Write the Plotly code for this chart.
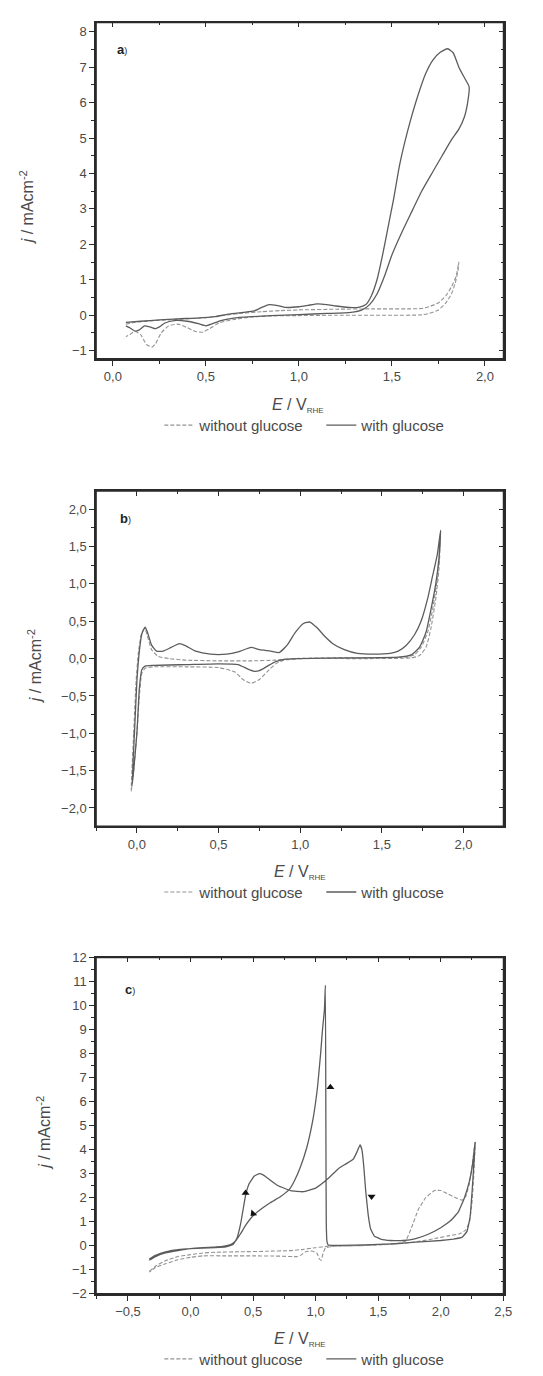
import plotly.graph_objects as go

W, H = 543, 1376

# ---------------- data ----------------
# Panel a
a_E_without = [0.07, 0.12, 0.2, 0.3, 0.4, 0.5, 0.6, 0.7, 0.8, 0.9, 1.0, 1.2, 1.4, 1.6, 1.66, 1.7, 1.75, 1.79, 1.82, 1.845, 1.86,
               1.855, 1.84, 1.82, 1.79, 1.75, 1.7, 1.66, 1.5, 1.2, 1.0, 0.85, 0.75, 0.65, 0.57, 0.52, 0.48, 0.44, 0.4, 0.35,
               0.3, 0.26, 0.23, 0.21, 0.18, 0.15, 0.12, 0.09, 0.07]
a_j_without = [-0.25, -0.2, -0.16, -0.13, -0.1, -0.07, 0.0, 0.06, 0.1, 0.13, 0.15, 0.17, 0.18, 0.18, 0.19, 0.24, 0.35, 0.55, 0.8, 1.1, 1.5,
               1.25, 0.9, 0.6, 0.35, 0.15, 0.05, 0.01, 0.0, 0.0, -0.01, -0.02, -0.05, -0.12, -0.22, -0.38, -0.48, -0.45, -0.35, -0.25,
               -0.3, -0.5, -0.8, -0.9, -0.82, -0.55, -0.45, -0.55, -0.6]
a_E_with = [0.07, 0.15, 0.25, 0.35, 0.45, 0.55, 0.62, 0.7, 0.76, 0.8, 0.84, 0.88, 0.93, 1.0, 1.05, 1.1, 1.15, 1.2, 1.27, 1.32,
            1.36, 1.39, 1.42, 1.45, 1.48, 1.51, 1.54, 1.57, 1.6, 1.64, 1.68, 1.72, 1.76, 1.8, 1.83, 1.86, 1.89, 1.915,
            1.91, 1.89, 1.86, 1.82, 1.77, 1.72, 1.66, 1.6, 1.55, 1.5, 1.46, 1.42, 1.38, 1.34, 1.28, 1.15, 1.0, 0.85, 0.75,
            0.65, 0.58, 0.53, 0.5, 0.46, 0.4, 0.33, 0.28, 0.25, 0.23, 0.2, 0.17, 0.14, 0.12, 0.09, 0.07]
a_j_with = [-0.2, -0.17, -0.13, -0.1, -0.08, -0.04, 0.03, 0.08, 0.12, 0.22, 0.3, 0.28, 0.22, 0.24, 0.28, 0.32, 0.3, 0.26, 0.22, 0.22,
            0.3, 0.55, 1.0, 1.7, 2.5, 3.3, 4.2, 4.9, 5.5, 6.2, 6.8, 7.2, 7.42, 7.52, 7.4, 7.0, 6.7, 6.45,
            6.1, 5.6, 5.25, 4.95, 4.5, 4.05, 3.5, 2.85, 2.3, 1.7, 1.1, 0.6, 0.3, 0.15, 0.08, 0.05, 0.02, -0.01, -0.04,
            -0.08, -0.15, -0.25, -0.3, -0.24, -0.17, -0.15, -0.22, -0.33, -0.38, -0.33, -0.3, -0.42, -0.45, -0.35, -0.3]

# Panel b
b_E_without = [-0.035, -0.02, -0.005, 0.01, 0.03, 0.048, 0.065, 0.09, 0.13, 0.2, 0.3, 0.5, 0.7, 0.85, 0.95, 1.2, 1.5, 1.65, 1.7,
               1.74, 1.78, 1.81, 1.835, 1.85, 1.86,
               1.85, 1.83, 1.8, 1.77, 1.73, 1.68, 1.4, 1.0, 0.9, 0.85, 0.8, 0.75, 0.7, 0.65, 0.6, 0.5, 0.3, 0.1, 0.05, 0.03,
               0.015, 0.0, -0.02, -0.035]
b_j_without = [-1.78, -1.0, -0.3, 0.1, 0.35, 0.4, 0.3, 0.12, 0.03, 0.0, -0.02, -0.03, -0.03, -0.02, 0.0, 0.01, 0.01, 0.02, 0.05,
               0.15, 0.35, 0.65, 1.0, 1.3, 1.7,
               1.2, 0.8, 0.4, 0.15, 0.04, 0.01, 0.0, 0.0, -0.02, -0.07, -0.17, -0.28, -0.33, -0.28, -0.18, -0.12, -0.11, -0.11,
               -0.13, -0.2, -0.5, -1.0, -1.5, -1.78]
b_E_with = [-0.03, -0.015, 0.0, 0.015, 0.03, 0.05, 0.065, 0.09, 0.12, 0.16, 0.21, 0.26, 0.3, 0.36, 0.45, 0.55, 0.62, 0.7, 0.75,
            0.82, 0.87, 0.92, 0.97, 1.02, 1.06, 1.1, 1.15, 1.2, 1.27, 1.35, 1.45, 1.55, 1.6, 1.65, 1.7, 1.74, 1.78, 1.81,
            1.84, 1.86,
            1.85, 1.83, 1.8, 1.77, 1.73, 1.68, 1.6, 1.3, 1.0, 0.9, 0.85, 0.8, 0.75, 0.72, 0.68, 0.62, 0.5, 0.3, 0.1, 0.05,
            0.03, 0.015, 0.0, -0.02, -0.03]
b_j_with = [-1.7, -1.0, -0.3, 0.1, 0.33, 0.42, 0.35, 0.18, 0.1, 0.1, 0.15, 0.2, 0.17, 0.1, 0.06, 0.06, 0.09, 0.15, 0.12,
            0.1, 0.08, 0.18, 0.35, 0.47, 0.49, 0.42, 0.3, 0.2, 0.12, 0.07, 0.06, 0.07, 0.1, 0.18, 0.32, 0.5, 0.8, 1.1,
            1.4, 1.72,
            1.35, 1.0, 0.65, 0.35, 0.15, 0.05, 0.02, 0.01, 0.0, -0.01, -0.04, -0.1, -0.16, -0.17, -0.14, -0.08, -0.07, -0.08,
            -0.09, -0.1, -0.15, -0.4, -1.0, -1.5, -1.7]

# Panel c
c_E_without = [-0.33, -0.28, -0.2, -0.1, 0.0, 0.1, 0.2, 0.4, 0.6, 0.8, 0.9, 1.0, 1.1, 1.3, 1.5, 1.65, 1.72, 1.77, 1.82, 1.88,
               1.95, 2.0, 2.06, 2.12, 2.17, 2.2, 2.23, 2.25, 2.275,
               2.265, 2.25, 2.23, 2.2, 2.15, 2.05, 1.95, 1.85, 1.7, 1.5, 1.3, 1.15, 1.08, 1.06, 1.045, 1.03, 1.01, 0.97,
               0.92, 0.88, 0.85, 0.7, 0.5, 0.3, 0.1, 0.0, -0.1, -0.2, -0.28, -0.33]
c_j_without = [-1.07, -0.85, -0.62, -0.45, -0.37, -0.3, -0.27, -0.25, -0.23, -0.2, -0.15, -0.08, -0.02, 0.0, 0.03, 0.08, 0.2,
               0.8, 1.5, 2.0, 2.3, 2.3, 2.15, 2.0, 1.9, 2.05, 2.6, 3.3, 4.3,
               3.0, 1.8, 1.0, 0.65, 0.5, 0.4, 0.3, 0.2, 0.1, 0.05, 0.0, -0.02, -0.08, -0.3, -0.6, -0.55, -0.3, -0.22,
               -0.25, -0.4, -0.45, -0.43, -0.42, -0.42, -0.42, -0.48, -0.58, -0.75, -0.9, -1.1]
c_E_with = [-0.33, -0.28, -0.2, -0.1, 0.0, 0.1, 0.2, 0.28, 0.34, 0.37, 0.4, 0.42, 0.44, 0.47, 0.51, 0.55, 0.58, 0.62, 0.7,
            0.8, 0.9, 1.0, 1.1, 1.18, 1.24, 1.3, 1.33, 1.355, 1.37, 1.385, 1.4, 1.42, 1.44, 1.47, 1.52, 1.6, 1.7, 1.8, 1.9,
            2.0, 2.08, 2.14, 2.19, 2.23, 2.255, 2.275,
            2.265, 2.25, 2.235, 2.21, 2.17, 2.1, 2.0, 1.8, 1.6, 1.4, 1.2, 1.1, 1.09, 1.085, 1.082, 1.078, 1.07, 1.055,
            1.04, 1.015, 0.98, 0.93, 0.88, 0.83, 0.79, 0.72, 0.64, 0.57, 0.5, 0.44, 0.4, 0.36, 0.32, 0.28, 0.2, 0.1, 0.0,
            -0.1, -0.2, -0.28, -0.33]
c_j_with = [-0.55, -0.4, -0.25, -0.16, -0.12, -0.1, -0.08, -0.05, 0.05, 0.3, 0.9, 1.5, 2.1, 2.6, 2.9, 3.0, 2.95, 2.8, 2.5,
            2.3, 2.25, 2.4, 2.8, 3.2, 3.4, 3.6, 3.9, 4.2, 4.0, 3.3, 2.3, 1.3, 0.7, 0.4, 0.28, 0.22, 0.22, 0.3, 0.48,
            0.75, 1.05, 1.4, 2.0, 2.7, 3.4, 4.3,
            3.4, 2.2, 1.2, 0.6, 0.35, 0.28, 0.22, 0.15, 0.08, 0.04, 0.02, 0.03, 0.2, 1.0, 5.0, 10.85, 9.8, 9.0,
            8.0, 6.6, 5.3, 4.1, 3.3, 2.7, 2.35, 2.05, 1.8, 1.55, 1.25, 0.85, 0.5, 0.2, 0.05, 0.0, -0.05, -0.08, -0.12,
            -0.2, -0.3, -0.45, -0.6]

# scan-direction arrows in panel c: position and pointing angle (deg, 0 = up, clockwise)
c_arrow_E = [0.44, 0.50, 1.118, 1.447]
c_arrow_j = [2.2, 1.34, 6.6, 2.05]
c_arrow_angle = [0, 225, 0, 180]

legend_labels = ["without glucose", "with glucose"]
panel_tags = ["a", "b", "c"]

# ---------------- layout geometry (pixels) ----------------
FONT = "Liberation Sans, Arial, sans-serif"
TXT = "#4a4a4a"
AX = "#2a2a2a"
SOLID_C = "#5c5c5c"
DASH_C = "#939393"


def px(x):
    return x / W


def py(y):
    return 1 - y / H


panels = [
    dict(top=15.7, bot=355.7, xr=[-0.09, 2.1], yr=[-1.23, 8.26], ydt=1, ymin=0.5, yfmt="d",
         xfmt=".1f", xdt=0.5, ytitle=(27, 203), xtitle=(303, 403), leg=423, tag=(117, 43), smooth=0.5,
         E=(a_E_without, a_E_with), J=(a_j_without, a_j_with)),
    dict(top=489.3, bot=828.3, xr=[-0.25, 2.245], yr=[-2.245, 2.245], ydt=0.5, ymin=0.25, yfmt=".1f",
         xfmt=".1f", xdt=0.5, ytitle=(35, 666), xtitle=(305, 875), leg=895, tag=(120, 517), smooth=0.5,
         E=(b_E_without, b_E_with), J=(b_j_without, b_j_with)),
    dict(top=961, bot=1301, xr=[-0.755, 2.502], yr=[-2, 12], ydt=1, ymin=0.5, yfmt="d",
         xfmt=".1f", xdt=0.5, ytitle=(44, 1138), xtitle=(305, 1347), leg=1367, tag=(125, 993), smooth=0.3,
         E=(c_E_without, c_E_with), J=(c_j_without, c_j_with)),
]

fig = go.Figure()
layout = dict(width=W, height=H, margin=dict(l=0, r=0, t=0, b=0), paper_bgcolor="white",
              plot_bgcolor="white", separators=",.", font=dict(family=FONT, color=TXT, size=13),
              showlegend=True)
annotations = []
shapes = []

for i, p in enumerate(panels):
    n = i + 1
    sfx = "" if n == 1 else str(n)
    xa, ya = "x" + sfx, "y" + sfx
    tn = n + 3
    xo, yo = "x" + str(tn), "y" + str(tn)
    legname = "legend" if n == 1 else "legend" + str(n)
    dom_x = [px(97.7), px(512)]
    dom_y = [py(p["bot"]), py(p["top"])]
    for k, (E, J) in enumerate(zip(p["E"], p["J"])):
        fig.add_trace(go.Scatter(
            x=E, y=J, mode="lines", name=legend_labels[k], xaxis=xa, yaxis=ya, legend=legname,
            line=dict(color=DASH_C if k == 0 else SOLID_C, width=1.1 if k == 0 else 1.3,
                      dash="4px,2px" if k == 0 else "solid", shape="spline", smoothing=p["smooth"]),
            hoverinfo="skip"))
    # empty carrier so that the top/right tick axes are drawn
    fig.add_trace(go.Scatter(x=[None], y=[None], mode="lines", xaxis=xo, yaxis=yo, showlegend=False,
                             hoverinfo="skip"))
    base = dict(showgrid=False, zeroline=False, linecolor=AX, linewidth=1.5, tickcolor=AX, tickwidth=1.3,
                showline=True)
    layout["xaxis" + sfx] = dict(domain=dom_x, anchor=ya, range=p["xr"], dtick=p["xdt"], tick0=0,
                                 tickformat=p["xfmt"], ticks="outside", ticklen=5,
                                 minor=dict(dtick=0.25, tick0=0, ticks="outside", ticklen=3, tickcolor=AX,
                                            tickwidth=1.1),
                                 tickfont=dict(size=13, color=TXT), **base)
    layout["yaxis" + sfx] = dict(domain=dom_y, anchor=xa, range=p["yr"], dtick=p["ydt"], tick0=0,
                                 tickformat=p["yfmt"], ticks="outside", ticklen=5,
                                 minor=dict(dtick=p["ymin"], tick0=0, ticks="outside", ticklen=3, tickcolor=AX,
                                            tickwidth=1.1),
                                 tickfont=dict(size=13, color=TXT), **base)
    # top / right frame with inward ticks
    layout["xaxis" + str(tn)] = dict(overlaying=xa, anchor=yo, side="top", range=p["xr"], dtick=p["xdt"],
                                     tick0=0, ticks="inside", ticklen=5, showticklabels=False,
                                     minor=dict(dtick=0.25, tick0=0, ticks="inside", ticklen=3, tickcolor=AX,
                                                tickwidth=1.1),
                                     **base)
    layout["yaxis" + str(tn)] = dict(overlaying=ya, anchor=xo, side="right", range=p["yr"], dtick=p["ydt"],
                                     tick0=0, ticks="inside", ticklen=5, showticklabels=False,
                                     minor=dict(dtick=p["ymin"], tick0=0, ticks="inside", ticklen=3, tickcolor=AX,
                                                tickwidth=1.1),
                                     **base)
    layout[legname] = dict(orientation="h", x=px(162), xanchor="left", y=py(p["leg"]), yanchor="middle",
                           bgcolor="rgba(0,0,0,0)", font=dict(size=15, color=TXT, family=FONT),
                           itemwidth=30, tracegroupgap=0, entrywidth=117, entrywidthmode="pixels")
    annotations.append(dict(text="<i>j</i> / mAcm<sup>-2</sup>", xref="paper", yref="paper",
                            x=px(p["ytitle"][0]), y=py(p["ytitle"][1]), textangle=-90, showarrow=False,
                            font=dict(size=16, color=TXT, family=FONT), xanchor="center", yanchor="middle"))
    annotations.append(dict(text="<i>E</i> / V<sub><span style='font-size:8px'>RHE</span></sub>", xref="paper",
                            yref="paper", x=px(p["xtitle"][0]), y=py(p["xtitle"][1]), showarrow=False,
                            font=dict(size=16, color=TXT, family=FONT), xanchor="center", yanchor="middle"))
    annotations.append(dict(text="<b>" + panel_tags[i] + "</b><span style='font-size:9px'>)</span>",
                            xref="paper", yref="paper", x=px(p["tag"][0]), y=py(p["tag"][1]),
                            showarrow=False, xanchor="left", yanchor="middle",
                            font=dict(size=13, color="#222", family=FONT)))
    shapes.append(dict(type="rect", xref=xa + " domain", yref=ya + " domain", x0=0, x1=1, y0=0, y1=1,
                       line=dict(color=AX, width=1.5), fillcolor="rgba(0,0,0,0)", layer="above"))

fig.add_trace(go.Scatter(x=c_arrow_E, y=c_arrow_j, mode="markers", xaxis="x3", yaxis="y3", showlegend=False,
                         marker=dict(symbol="triangle-up", size=7, color="#111", angle=c_arrow_angle),
                         hoverinfo="skip"))

layout["annotations"] = annotations
layout["shapes"] = shapes
fig.update_layout(**layout)
fig.write_html("out.html")
